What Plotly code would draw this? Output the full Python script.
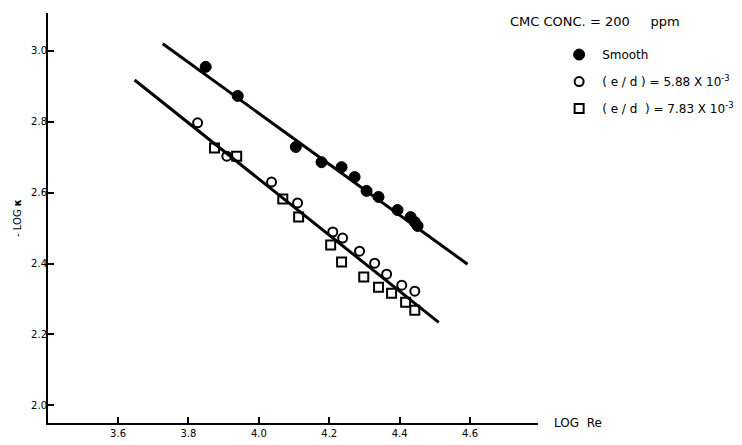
import plotly.graph_objects as go

# Data (LOG Re vs -LOG kappa)
smooth_x = [3.849, 3.940, 4.105, 4.178, 4.235, 4.272, 4.306, 4.340, 4.394, 4.431, 4.443, 4.451]
smooth_y = [2.955, 2.873, 2.729, 2.686, 2.672, 2.644, 2.605, 2.588, 2.551, 2.531, 2.517, 2.506]

ed588_x = [3.826, 3.909, 4.036, 4.110, 4.210, 4.238, 4.286, 4.329, 4.363, 4.406, 4.443]
ed588_y = [2.797, 2.703, 2.630, 2.571, 2.489, 2.472, 2.435, 2.401, 2.370, 2.339, 2.322]

ed783_x = [3.874, 3.937, 4.068, 4.113, 4.204, 4.235, 4.298, 4.340, 4.377, 4.417, 4.443]
ed783_y = [2.726, 2.703, 2.582, 2.531, 2.452, 2.404, 2.362, 2.333, 2.316, 2.291, 2.268]

# Fitted lines (end points)
upper_line_x = [3.727, 4.593]
upper_line_y = [3.020, 2.398]
lower_line_x = [3.647, 4.511]
lower_line_y = [2.918, 2.234]

x_ticks = [3.6, 3.8, 4.0, 4.2, 4.4, 4.6]
y_ticks = [2.0, 2.2, 2.4, 2.6, 2.8, 3.0]

FONT = "DejaVu Sans"
NB = "\u00a0"

fig = go.Figure()

fig.add_trace(go.Scatter(x=upper_line_x, y=upper_line_y, mode="lines",
                         line=dict(color="black", width=3), showlegend=False, hoverinfo="skip"))
fig.add_trace(go.Scatter(x=lower_line_x, y=lower_line_y, mode="lines",
                         line=dict(color="black", width=3), showlegend=False, hoverinfo="skip"))

fig.add_trace(go.Scatter(x=smooth_x, y=smooth_y, mode="markers", name="Smooth",
                         legendgroup="a",
                         marker=dict(symbol="circle", size=11, color="black",
                                     line=dict(color="black", width=1))))
fig.add_trace(go.Scatter(x=ed588_x, y=ed588_y, mode="markers",
                         name=f"({NB}e{NB}/{NB}d{NB}){NB}={NB}5.88{NB}X{NB}10<sup>-3</sup>",
                         legendgroup="b",
                         marker=dict(symbol="circle-open", size=9, color="black",
                                     line=dict(color="black", width=2))))
fig.add_trace(go.Scatter(x=ed783_x, y=ed783_y, mode="markers",
                         name=f"({NB}e{NB}/{NB}d{NB}{NB}){NB}={NB}7.83{NB}X{NB}10<sup>-3</sup>",
                         legendgroup="c",
                         marker=dict(symbol="square-open", size=9, color="black",
                                     line=dict(color="black", width=2))))

# The page body adds an 8px offset, so the figure is 8px smaller and margins compensate.
fig.update_layout(
    width=734, height=437,
    margin=dict(l=40, r=204, t=5, b=22, autoexpand=False),
    paper_bgcolor="white", plot_bgcolor="white",
    font=dict(family=FONT, color="black", size=11),
    showlegend=True,
    legend=dict(x=1.037, y=0.934, xanchor="left", yanchor="top",
                font=dict(family=FONT, size=12, color="black"),
                itemwidth=36,
                tracegroupgap=8, bgcolor="rgba(0,0,0,0)"),
    xaxis=dict(range=[3.401, 4.793], tickvals=x_ticks,
               ticktext=[f"{v:.1f}" for v in x_ticks],
               showline=True, linecolor="black", linewidth=2,
               ticks="inside", ticklen=6, tickwidth=1.5, tickcolor="black",
               showgrid=False, zeroline=False, automargin=False,
               tickfont=dict(family=FONT, size=10)),
    yaxis=dict(range=[1.95, 3.107], tickvals=y_ticks,
               ticktext=[f"{v:.1f}" for v in y_ticks],
               showline=True, linecolor="black", linewidth=2,
               ticks="inside", ticklen=6, tickwidth=1.5, tickcolor="black",
               showgrid=False, zeroline=False, automargin=False,
               ticklabelstandoff=-3,
               tickfont=dict(family=FONT, size=10),
               title=dict(text="- LOG <b>κ</b>", font=dict(family=FONT, size=10), standoff=8)),
    annotations=[
        dict(text=f"CMC{NB}CONC.{NB}={NB}200{NB}{NB}{NB}{NB}{NB}ppm", xref="paper", yref="paper",
             x=(508 - 48) / 490, y=1 - (21 - 13) / 410, xanchor="left", yanchor="middle",
             showarrow=False, font=dict(family=FONT, size=13)),
        dict(text=f"LOG{NB}{NB}Re", xref="paper", yref="paper",
             x=1.0286, y=0.0, xanchor="left", yanchor="middle", showarrow=False,
             font=dict(family=FONT, size=12)),
    ],
)

fig.write_html("out.html")
